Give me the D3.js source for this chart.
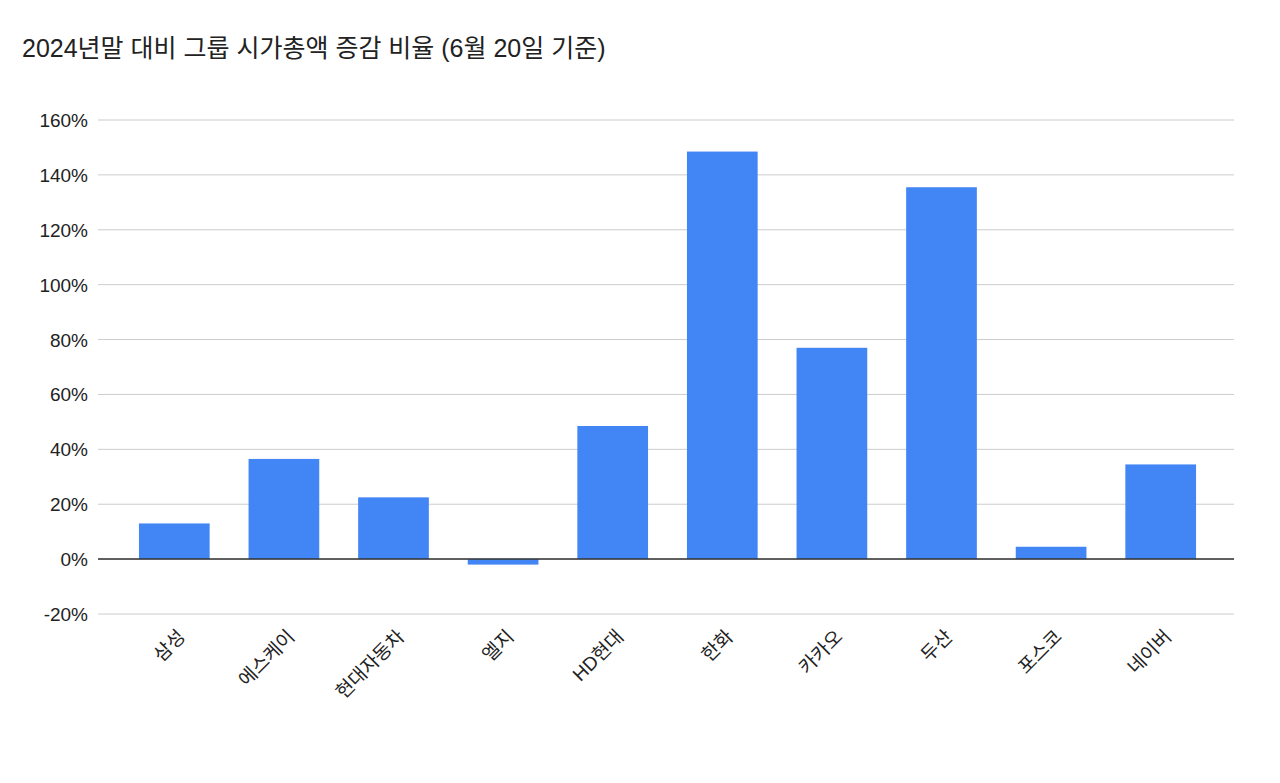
<!DOCTYPE html>
<html><head><meta charset="utf-8">
<script src="https://cdn.jsdelivr.net/npm/d3@7"></script>
<style>body{margin:0;background:#fff}text{font-family:"Liberation Sans","Noto Sans CJK KR",sans-serif}</style>
</head><body><svg id="c" width="1280" height="783"></svg>
<script>
const categories=["삼성","에스케이","현대자동차","엘지","HD현대","한화","카카오","두산","포스코","네이버"];
const values=[13,36.5,22.5,-2,48.5,148.5,77,135.5,4.5,34.5];
const yTicks=[-20,0,20,40,60,80,100,120,140,160];
const svg=d3.select("#c");
svg.append("text").attr("x",22).attr("y",57).attr("font-size",25).attr("fill","#222").text("2024년말 대비 그룹 시가총액 증감 비율 (6월 20일 기준)");
const y=d3.scaleLinear().domain([-20,160]).range([614,120]);
const x=d3.scaleBand().domain(categories).range([119.5,1215.5]).paddingInner(0.355).paddingOuter(0.1775);
const g=svg.append("g");
g.selectAll("line.g").data(yTicks).join("line").attr("x1",98).attr("x2",1234).attr("y1",d=>y(d)).attr("y2",d=>y(d)).attr("stroke","#ccc").attr("stroke-width",1);
g.selectAll("text.y").data(yTicks).join("text").attr("x",88).attr("y",d=>y(d)+7).attr("text-anchor","end").attr("font-size",19).attr("fill","#222").text(d=>d+"%");
g.selectAll("rect").data(values).join("rect").attr("x",(d,i)=>x(categories[i])).attr("width",x.bandwidth()).attr("y",d=>Math.min(y(d),y(0))).attr("height",d=>Math.abs(y(d)-y(0))).attr("fill","#4285f4");
g.append("line").attr("x1",98).attr("x2",1234).attr("y1",y(0)).attr("y2",y(0)).attr("stroke","#333").attr("stroke-width",1.5);
g.selectAll("text.x").data(categories).join("text").attr("font-size",19).attr("fill","#222").attr("text-anchor","end")
 .attr("transform",d=>`translate(${x(d)+x.bandwidth()/2+12},${638}) rotate(-45)`).text(d=>d);
</script></body></html>
